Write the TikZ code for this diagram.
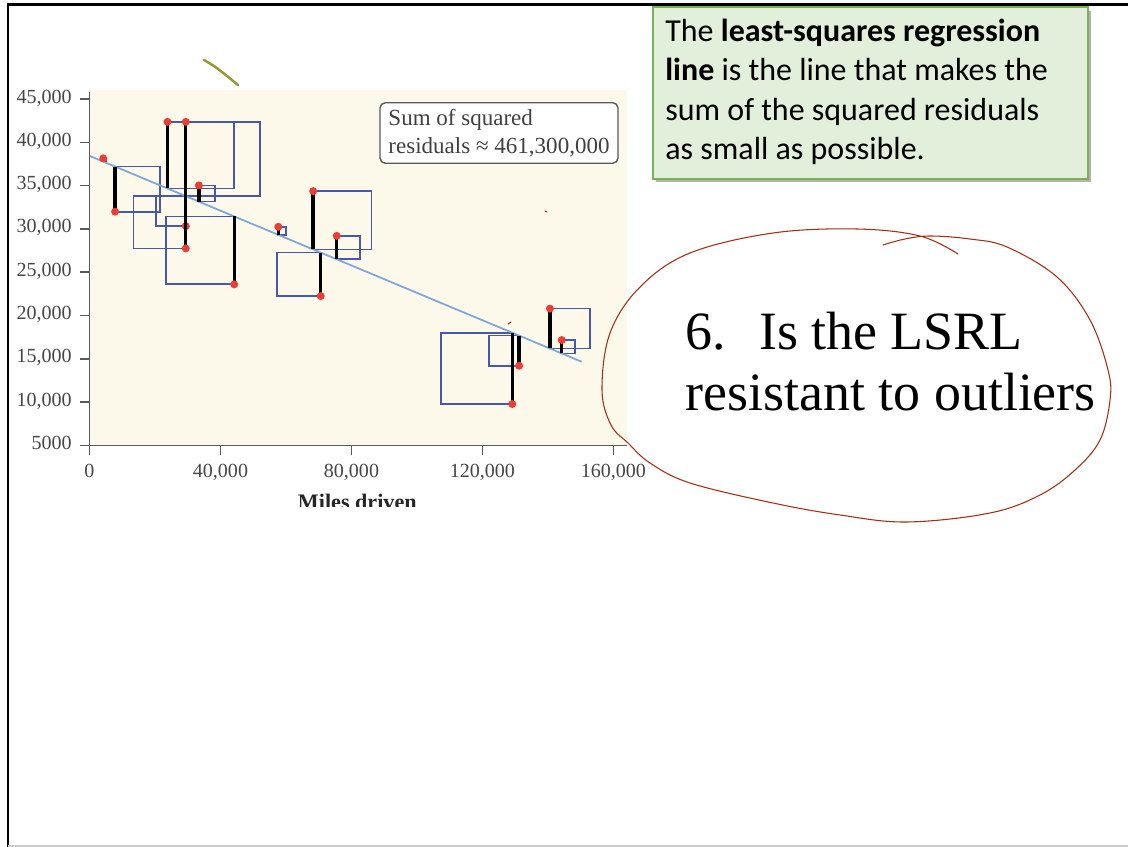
\documentclass[tikz,border=0pt]{standalone}
\usepackage{fontspec}
\setmainfont{Liberation Serif}
\newfontfamily\slidefont{Carlito}
\usetikzlibrary{shadows}

\definecolor{plotbg}{RGB}{253,249,234}
\definecolor{sqblue}{RGB}{72,88,168}
\definecolor{lineblue}{RGB}{127,166,216}
\definecolor{dotred}{RGB}{236,62,52}
\definecolor{axisgray}{RGB}{90,90,90}
\definecolor{labgray}{RGB}{70,70,70}
\definecolor{defgreen}{RGB}{226,239,218}
\definecolor{defedge}{RGB}{122,176,88}
\definecolor{inkred}{RGB}{160,45,20}
\definecolor{inkolive}{RGB}{150,150,50}

% miles (thousands) / price (thousands) / side of the square
\newcommand\cardata{4.2/38.15/1, 7.8/32.0/1, 23.8/42.37/1, 29.4/42.37/1,
  33.4/35.03/1, 29.4/30.33/-1, 29.4/27.75/-1, 44.2/23.6/-1, 57.65/30.25/1,
  68.3/34.37/1, 70.6/22.25/-1, 75.5/29.2/1, 140.6/20.8/1, 144.2/17.17/1,
  131.2/14.2/-1, 129.1/9.78/-1}

\tikzset{
  frame/.style={line width=1.7pt, black},
  axis/.style={line width=0.9pt, axisgray},
  ticklab/.style={inner sep=0pt, text=labgray, font=\fontsize{11.4}{13}\selectfont},
  axlab/.style={anchor=base, inner sep=0pt, text=black!85, font=\bfseries\fontsize{12.6}{15}\selectfont},
  resbox/.style={draw=sqblue, line width=1pt},
  resid/.style={line width=1.9pt, black},
  dot/.style={circle, fill=dotred, inner sep=0pt, minimum size=0.16cm},
  lsrl/.style={lineblue, line width=1pt},
  sumbox/.style={draw=axisgray, rounded corners=3pt, fill=white, line width=0.8pt,
    inner sep=0pt, minimum width=4.76cm, minimum height=1.21cm, align=left,
    text=black!75, font=\fontsize{13.1}{16}\selectfont},
  defbox/.style={fill=defgreen, draw=defedge, line width=0.7pt,
    minimum width=8.7cm, minimum height=3.44cm,
    drop shadow={shadow xshift=1.5pt, shadow yshift=-2pt, opacity=.3, fill=black}},
  deftext/.style={anchor=base west, inner sep=0pt, font=\slidefont\fontsize{18.2}{22}\selectfont},
  bigtext/.style={anchor=base west, inner sep=0pt, font=\fontsize{30.7}{35}\selectfont},
  ink/.style={inkred, line width=0.6pt, line cap=round}
}

\begin{document}
\begin{tikzpicture}[x=0.02cm, y=-0.02cm]
  \useasboundingbox[fill=white] (0,0) rectangle (1128,847);
  \draw[frame] (8,847) -- (8,5) -- (1128,5);
  \draw[black!20, line width=1pt] (8,846) -- (1128,846);

  \draw[inkolive, line width=1.4pt, line cap=round] (204,60) .. controls (216,67) .. (238,85);

  % scatterplot in thousands
  \begin{scope}[shift={(89.5,488.7)}, x=0.0655cm, y=0.1732cm]
    \fill[plotbg] (0,5) rectangle (164.1,46.04);
    \foreach \mx/\p/\d in \cardata {
      \pgfmathsetmacro\fit{38.44-0.1582*\mx}
      \pgfmathsetmacro\side{\d*2.644*abs(\p-\fit)}
      \draw[resbox] (\mx,\p) rectangle ({\mx+\side},\fit);
    }
    \draw[lsrl] (0,38.44) -- (150.3,14.66);
    \foreach \mx/\p/\d [count=\i] in \cardata {
      \pgfmathsetmacro\fit{38.44-0.1582*\mx}
      \coordinate (pt\i) at (\mx,\p);
      \coordinate (fit\i) at (\mx,\fit);
      \draw[resid] (pt\i) -- (fit\i);
      \node[dot] (car\i) at (pt\i) {};
    }
    \draw[axis] (0,45.8) -- (0,5) -- (164.1,5);
    \foreach \v/\lab in {5/5000, 10/{10,000}, 15/{15,000}, 20/{20,000}, 25/{25,000},
        30/{30,000}, 35/{35,000}, 40/{40,000}, 45/{45,000}} {
      \draw[axis] (-3.05,\v) -- (0,\v);
      \node[ticklab, anchor=mid east] (ylab\v) at (-5.34,\v) {\lab};
    }
    \foreach \v/\lab in {0/0, 40/{40,000}, 80/{80,000}, 120/{120,000}, 160/{160,000}} {
      \draw[axis] (\v,5) -- (\v,3.845);
      \node[ticklab, anchor=base] (xlab\v) at (\v,1.35) {\lab};
    }
  \end{scope}

  \begin{scope}
    \clip (250,470) rectangle (470,506);
    \node[axlab] (xtitle) at (357.3,509) {Miles driven};
  \end{scope}

  \node[sumbox] (sse) at (499,133) {Sum of squared\\residuals ≈ 461,300,000};

  \node[defbox] (def) at (870.5,93) {};
  \foreach \txt [count=\i] in {The \textbf{least-squares regression},
      \textbf{line} is the line that makes the, sum of the squared residuals,
      as small as possible.}
    \node[deftext] (def\i) at (665,{41.7+39.2*(\i-1)}) {\txt};

  \node[bigtext] (q6a) at (685,349.3) {6.\hspace{19pt}Is the LSRL};
  \node[bigtext] (q6b) at (685,410) {resistant to outliers};

  \draw[ink] plot[smooth, tension=0.6] coordinates {(883,245) (905,239) (930,236)
    (970,239) (1007,247) (1057,277) (1090,320) (1108,370) (1110,400) (1100,440)
    (1075,470) (1040,495) (990,513) (907,522) (840,515) (773,503) (690,483)
    (650,463) (628,443) (611,425) (602,390) (610,333) (640,287) (690,253)
    (773,233) (857,229) (920,236) (958,254)};
  \draw[ink] (545,211) -- (547,212);
  \draw[ink] (508,324) -- (511,322);
\end{tikzpicture}
\end{document}
